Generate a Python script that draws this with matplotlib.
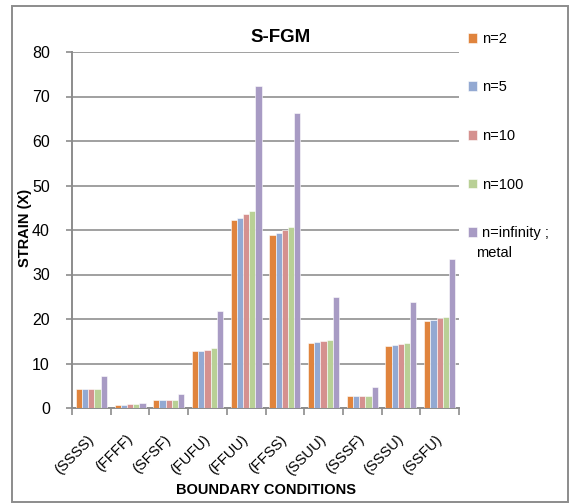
import matplotlib
matplotlib.use("Agg")
import matplotlib.pyplot as plt
import matplotlib.transforms as mtransforms
import numpy as np
from matplotlib.patches import Rectangle

plt.rcParams['font.family'] = ['Liberation Sans', 'DejaVu Sans']

categories = ["(SSSS)", "(FFFF)", "(SFSF)", "(FUFU)", "(FFUU)", "(FFSS)", "(SSUU)", "(SSSF)", "(SSSU)", "(SSFU)"]
series_names = ["n=2", "n=5", "n=10", "n=100", "n=infinity ;"]
n2 = [4.2, 0.6, 1.7, 12.8, 42.2, 38.8, 14.7, 2.6, 13.9, 19.5]
n5 = [4.2, 0.6, 1.7, 12.8, 42.6, 39.3, 14.8, 2.8, 14.1, 19.8]
n10 = [4.35, 0.8, 1.7, 13.1, 43.6, 40.0, 15.0, 2.8, 14.4, 20.2]
n100 = [4.35, 0.8, 1.7, 13.4, 44.2, 40.6, 15.2, 2.8, 14.5, 20.4]
metal = [7.2, 1.2, 3.1, 21.9, 72.3, 66.3, 25.0, 4.7, 23.8, 33.5]
colors = ["#E0843D", "#93A9D2", "#D5918F", "#B9D096", "#A89BC4"]
yticks = [0, 10, 20, 30, 40, 50, 60, 70, 80]

fig = plt.figure(figsize=(5.74, 5.04), dpi=100)
ax = fig.add_axes([72/574, 1-408/504, (459-72)/574, (408-52)/504])

data = [n2, n5, n10, n100, metal]
x = np.arange(len(categories))
bw = 0.16
for i, (vals, c, name) in enumerate(zip(data, colors, series_names)):
    ax.bar(x + (i - 2) * bw, vals, width=bw, color=c, edgecolor='white', linewidth=0.4, label=name, zorder=3)

ax.set_xlim(-0.5, len(categories) - 0.5)
ax.set_ylim(0, 80)
ax.set_yticks(yticks)
ax.set_yticklabels([str(v) for v in yticks], fontsize=11.5)
ax.yaxis.grid(True, color='#A0A0A0', linewidth=1.4, zorder=0)
ax.set_axisbelow(True)
ax.set_xticks(x)
ax.set_xticklabels(categories, rotation=45, ha='right', va='center', rotation_mode='anchor', fontsize=10.5)
offset = mtransforms.ScaledTranslation(6/100, 0, fig.dpi_scale_trans)
for lab in ax.get_xticklabels():
    lab.set_transform(lab.get_transform() + offset)
ax.tick_params(axis='x', which='major', length=0, pad=21)
ax.set_xticks(np.arange(-0.5, len(categories)), minor=True)
ax.tick_params(axis='x', which='minor', length=5, width=1.2, color='#8C8C8C', direction='out')
ax.tick_params(axis='y', length=4, width=1.2, color='#8C8C8C', pad=12)
for s in ['top', 'right']:
    ax.spines[s].set_visible(False)
for s in ['left', 'bottom']:
    ax.spines[s].set_color('#8C8C8C')
    ax.spines[s].set_linewidth(1.4)

fig.text(281/574, 1-38/504, "S-FGM", fontsize=13.5, fontweight='bold', ha='center', va='center')
fig.text(25/574, 1-228/504, "STRAIN (X)", fontsize=10.5, fontweight='bold', rotation=90, ha='center', va='center')
ax.set_xlabel("BOUNDARY CONDITIONS", fontsize=10.5, fontweight='bold')
ax.xaxis.set_label_coords(0.5, (408-483)/356)

leg = fig.legend(loc='upper left', bbox_to_anchor=(462/574, 1-26/504), frameon=False,
                 fontsize=10.5, handlelength=0.65, handleheight=0.65, handletextpad=0.3,
                 labelspacing=2.37, borderaxespad=0)
fig.text(476/574, 1-253/504, "metal", fontsize=10.5, ha='left', va='center')

fig.patches.append(Rectangle((12/574, 1-502/504), 0.99 - 12/574, (502-6)/504, transform=fig.transFigure,
                             fill=False, edgecolor='#8C8C8C', linewidth=1.4))

fig.savefig("out.png", dpi=100)
